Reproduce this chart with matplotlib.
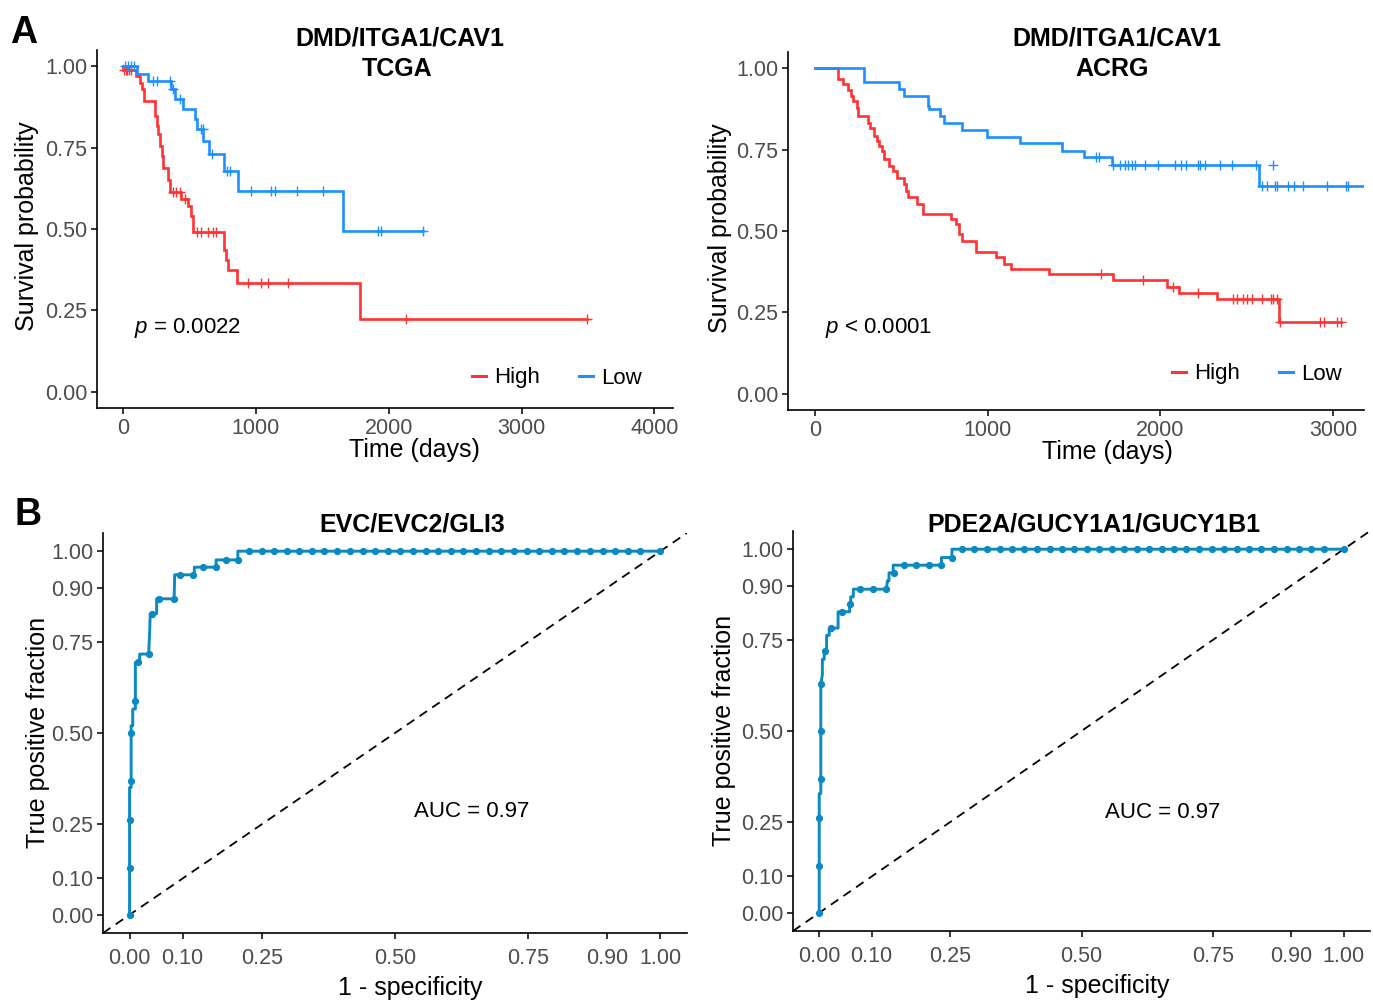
import numpy as np
import matplotlib
matplotlib.use("Agg")
import matplotlib.pyplot as plt
from matplotlib.lines import Line2D

plt.rcParams['font.family'] = ['Liberation Sans', 'DejaVu Sans']
plt.rcParams['mathtext.fontset'] = 'custom'
plt.rcParams['mathtext.it'] = 'Liberation Sans:italic'
plt.rcParams['mathtext.rm'] = 'Liberation Sans'

# ---------------- data ----------------
groups = ["High", "Low"]
colors_km = {"High": "#FF3333", "Low": "#1E8FFF"}

tcga_high_t = [0, 3, 95, 128, 140, 160, 241, 253, 266, 278, 291, 303, 336, 353, 436, 491, 511, 529,
               762, 779, 792, 855, 1782, 3489]
tcga_high_s = [1.0, 0.989, 0.970, 0.950, 0.929, 0.893, 0.847, 0.816, 0.791, 0.755, 0.723, 0.688, 0.652,
               0.613, 0.591, 0.570, 0.539, 0.490, 0.437, 0.406, 0.375, 0.334, 0.224, 0.224]
tcga_high_cens = [10, 20, 30, 45, 60, 378, 403, 429, 466, 554, 591, 642, 679, 704, 942, 1043, 1093,
                  1243, 2133, 3489]

tcga_low_t = [0, 103, 190, 361, 391, 454, 541, 554, 604, 647, 762, 867, 1657, 2258]
tcga_low_s = [1.0, 0.977, 0.954, 0.929, 0.898, 0.868, 0.837, 0.806, 0.770, 0.729, 0.678, 0.618,
              0.493, 0.493]
tcga_low_cens = [15, 35, 60, 80, 228, 253, 353, 378, 429, 586, 600, 667, 780, 805, 967, 1118, 1143,
                 1313, 1506, 1920, 1945, 2258]

acrg_high_t = [0, 131, 161, 190, 207, 222, 244, 251, 305, 320, 342, 357, 370, 386, 397, 429, 451, 473,
               516, 527, 538, 593, 625, 789, 815, 832, 854, 930, 1050, 1094, 1137, 1355, 1725, 2041,
               2107, 2325, 2684, 3044]
acrg_high_s = [1.0, 0.966, 0.951, 0.932, 0.915, 0.898, 0.877, 0.854, 0.833, 0.816, 0.792, 0.777, 0.762,
               0.746, 0.721, 0.700, 0.685, 0.664, 0.644, 0.623, 0.603, 0.582, 0.552, 0.536, 0.521,
               0.490, 0.468, 0.434, 0.419, 0.400, 0.383, 0.367, 0.349, 0.327, 0.311, 0.291, 0.219, 0.219]
acrg_high_cens = [1656, 1900, 2074, 2216, 2423, 2444, 2477, 2499, 2532, 2586, 2641, 2651, 2673, 2695,
                  2924, 2946, 3022, 3044]

acrg_low_t = [0, 283, 488, 516, 654, 662, 723, 745, 850, 996, 1185, 1431, 1556, 1719, 2571, 3174]
acrg_low_s = [1.0, 0.958, 0.936, 0.915, 0.884, 0.874, 0.854, 0.833, 0.810, 0.789, 0.769, 0.746, 0.726,
              0.702, 0.639, 0.639]
acrg_low_cens = [1627, 1643, 1725, 1769, 1795, 1813, 1834, 1856, 1911, 1987, 2085, 2118, 2150, 2216,
                 2227, 2259, 2346, 2412, 2553, 2586, 2619, 2662, 2673, 2739, 2771, 2826, 2967, 3076, 3087]
acrg_low_extra_t = [2651]
acrg_low_extra_s = [0.702]

# ROC curves
roc1_fpr = [0, 0, 0.003, 0.003, 0.006, 0.006, 0.011, 0.011, 0.019, 0.019, 0.036, 0.038, 0.039, 0.051,
            0.051, 0.084, 0.085, 0.122, 0.122, 0.163, 0.163, 0.204, 0.204, 1.0]
roc1_tpr = [0, 0.350, 0.350, 0.520, 0.520, 0.566, 0.566, 0.694, 0.694, 0.717, 0.717, 0.783, 0.828,
            0.828, 0.869, 0.869, 0.935, 0.935, 0.956, 0.956, 0.976, 0.976, 1.0, 1.0]
roc1_dot_fpr = [0, 0, 0, 0.003, 0.003, 0.011, 0.016, 0.036, 0.043, 0.055, 0.084, 0.095, 0.119, 0.139,
                0.162, 0.182, 0.204]
roc1_dot_tpr = [0, 0.128, 0.261, 0.369, 0.500, 0.587, 0.696, 0.717, 0.828, 0.869, 0.869, 0.935, 0.935,
                0.956, 0.956, 0.976, 0.976]
roc1_top_fpr = [0.225, 0.249, 0.272, 0.296, 0.320, 0.344, 0.367, 0.391, 0.415, 0.439, 0.463, 0.486,
                0.510, 0.534, 0.558, 0.581, 0.605, 0.629, 0.653, 0.677, 0.700, 0.724, 0.748, 0.772,
                0.796, 0.819, 0.843, 0.867, 0.891, 0.915, 0.938, 0.962, 1.0]

roc2_fpr = [0, 0, 0.003, 0.003, 0.006, 0.006, 0.0095, 0.0095, 0.014, 0.014, 0.019, 0.019, 0.036, 0.036,
            0.058, 0.058, 0.060, 0.060, 0.065, 0.065, 0.128, 0.130, 0.133, 0.133, 0.141, 0.141, 0.233,
            0.233, 0.253, 0.253, 1.0]
roc2_tpr = [0, 0.328, 0.328, 0.630, 0.655, 0.697, 0.697, 0.719, 0.719, 0.763, 0.763, 0.783, 0.783,
            0.828, 0.828, 0.849, 0.849, 0.869, 0.869, 0.890, 0.890, 0.913, 0.913, 0.935, 0.935, 0.956,
            0.956, 0.977, 0.977, 1.0, 1.0]
roc2_dot_fpr = [0, 0, 0, 0.003, 0.003, 0.003, 0.011, 0.022, 0.043, 0.058, 0.078, 0.102, 0.127, 0.142,
                0.161, 0.185, 0.209, 0.233, 0.253]
roc2_dot_tpr = [0, 0.128, 0.261, 0.369, 0.500, 0.630, 0.719, 0.783, 0.828, 0.849, 0.890, 0.890, 0.890,
                0.935, 0.956, 0.956, 0.956, 0.956, 0.977]
roc2_top_fpr = [0.272, 0.296, 0.320, 0.344, 0.367, 0.391, 0.415, 0.439, 0.463, 0.486, 0.510, 0.534,
                0.558, 0.581, 0.605, 0.629, 0.653, 0.677, 0.700, 0.724, 0.748, 0.772, 0.796, 0.819,
                0.843, 0.867, 0.891, 0.915, 0.938, 0.962, 1.0]

roc_ticks = [0, 0.10, 0.25, 0.50, 0.75, 0.90, 1.00]
roc_ticklabels = ["0.00", "0.10", "0.25", "0.50", "0.75", "0.90", "1.00"]
km_yticks = [0, 0.25, 0.5, 0.75, 1.0]
km_yticklabels = ["0.00", "0.25", "0.50", "0.75", "1.00"]
tcga_xticks = [0, 1000, 2000, 3000, 4000]
acrg_xticks = [0, 1000, 2000, 3000]

# ---------------- figure ----------------
W, H = 1373, 1001
fig = plt.figure(figsize=(W / 100, H / 100), dpi=100)


def rect(x0, y0, x1, y1):
    return [x0 / W, 1 - y1 / H, (x1 - x0) / W, (y1 - y0) / H]


TICK_COLOR = "#4D4D4D"
TICK_FS = 15.5
LAB_FS = 18


def style(ax):
    for s in ["top", "right"]:
        ax.spines[s].set_visible(False)
    for s in ["left", "bottom"]:
        ax.spines[s].set_linewidth(1.2)
        ax.spines[s].set_color("black")
    ax.tick_params(axis="both", length=4, width=1.1, color="black", labelcolor=TICK_COLOR,
                   labelsize=TICK_FS, pad=3)


def place_labels(ax, box, xlab_px, ylab_px):
    # box: (x0, y0, x1, y1) of axes in figure pixels; label centers in figure pixels
    x0, y0, x1, y1 = box
    ax.xaxis.set_label_coords((xlab_px[0] - x0) / (x1 - x0), (y1 - xlab_px[1]) / (y1 - y0))
    ax.yaxis.set_label_coords((ylab_px[0] - x0) / (x1 - x0), (y1 - ylab_px[1]) / (y1 - y0))
    ax.xaxis.label.set_verticalalignment("center")
    ax.yaxis.label.set_verticalalignment("center")
    ax.yaxis.label.set_horizontalalignment("center")


def km_panel(ax, curves, xlim, xticks, pval_text, pval_xy):
    for g, (t, s, cens) in curves.items():
        ax.step(t, s, where="post", color=colors_km[g], lw=1.9, solid_joinstyle="miter")
        idx = np.searchsorted(t, cens, side="right") - 1
        cs = np.asarray(s)[idx]
        ax.plot(cens, cs, linestyle="none", marker="+", ms=7, mew=1.0, color=colors_km[g])
    ax.set_xlim(*xlim)
    ax.set_ylim(-0.05, 1.05)
    ax.set_xticks(xticks)
    ax.set_xticklabels([str(v) for v in xticks])
    ax.set_yticks(km_yticks)
    ax.set_yticklabels(km_yticklabels)
    ax.set_xlabel("Time (days)", fontsize=LAB_FS)
    ax.set_ylabel("Survival probability", fontsize=LAB_FS)
    ax.text(pval_xy[0], pval_xy[1], pval_text, fontsize=16, ha="left", va="center")
    style(ax)


box1 = (97, 50, 673, 408)
ax1 = fig.add_axes(rect(*box1))
km_panel(ax1, {"High": (tcga_high_t, tcga_high_s, tcga_high_cens),
               "Low": (tcga_low_t, tcga_low_s, tcga_low_cens)},
         (-195, 4140), tcga_xticks, r"$p$ = 0.0022", (80, 0.197))
place_labels(ax1, box1, (414, 450), (27, 226))

box2 = (788, 52, 1364, 410)
ax2 = fig.add_axes(rect(*box2))
km_panel(ax2, {"High": (acrg_high_t, acrg_high_s, acrg_high_cens),
               "Low": (acrg_low_t, acrg_low_s, acrg_low_cens)},
         (-156, 3179), acrg_xticks, r"$p$ < 0.0001", (60, 0.203))
ax2.plot(acrg_low_extra_t, acrg_low_extra_s, linestyle="none", marker="+", ms=7, mew=1.0,
         color=colors_km["Low"])
place_labels(ax2, box2, (1107, 452), (720, 228))

handles = [Line2D([0], [0], color=colors_km[g], lw=2.2) for g in groups]
for ax, (cx, cy) in [(ax1, (557, 378)), (ax2, (1257, 374))]:
    fig.legend(handles, groups, ncol=2, loc="center", bbox_to_anchor=(cx / W, 1 - cy / H),
               frameon=False, fontsize=16, handlelength=0.65, handletextpad=0.35,
               columnspacing=1.75, borderpad=0, borderaxespad=0)

ROC_COLOR = "#0B8AC0"


def roc_panel(ax, fpr, tpr, dfpr, dtpr, topfpr, auc_xy):
    ax.plot([-0.05, 1.05], [-0.05, 1.05], color="black", lw=1.3, linestyle=(0, (5, 3.5)))
    ax.plot(fpr, tpr, color=ROC_COLOR, lw=2.1)
    ax.plot(dfpr, dtpr, linestyle="none", marker="o", ms=4.2, color=ROC_COLOR)
    ax.plot(topfpr, np.ones(len(topfpr)), linestyle="none", marker="o", ms=4.2, color=ROC_COLOR)
    ax.set_xlim(-0.05, 1.05)
    ax.set_ylim(-0.05, 1.05)
    ax.set_xticks(roc_ticks)
    ax.set_xticklabels(roc_ticklabels)
    ax.set_yticks(roc_ticks)
    ax.set_yticklabels(roc_ticklabels)
    ax.set_xlabel("1 - specificity", fontsize=LAB_FS)
    ax.set_ylabel("True positive fraction", fontsize=LAB_FS)
    ax.text(auc_xy[0], auc_xy[1], "AUC = 0.97", fontsize=16, ha="center", va="center")
    style(ax)
    ax.tick_params(axis="x", pad=7)


box3 = (103, 533, 687, 933)
ax3 = fig.add_axes(rect(*box3))
roc_panel(ax3, roc1_fpr, roc1_tpr, roc1_dot_fpr, roc1_dot_tpr, roc1_top_fpr, (0.645, 0.283))
place_labels(ax3, box3, (410, 988), (38, 732))

box4 = (793, 531, 1370, 931)
ax4 = fig.add_axes(rect(*box4))
roc_panel(ax4, roc2_fpr, roc2_tpr, roc2_dot_fpr, roc2_dot_tpr, roc2_top_fpr, (0.654, 0.277))
place_labels(ax4, box4, (1097, 986), (724, 730))

# titles
def ftext(x, y, s, **kw):
    fig.text(x / W, 1 - y / H, s, **kw)

ftext(400, 38, "DMD/ITGA1/CAV1", fontsize=18, fontweight="bold", ha="center", va="center")
ftext(397, 69, "TCGA", fontsize=18, fontweight="bold", ha="center", va="center")
ftext(1117, 38, "DMD/ITGA1/CAV1", fontsize=18, fontweight="bold", ha="center", va="center")
ftext(1112, 69, "ACRG", fontsize=18, fontweight="bold", ha="center", va="center")
ftext(412, 524, "EVC/EVC2/GLI3", fontsize=18, fontweight="bold", ha="center", va="center")
ftext(1094, 524, "PDE2A/GUCY1A1/GUCY1B1", fontsize=18, fontweight="bold", ha="center", va="center")

ftext(24, 33, "A", fontsize=27, fontweight="bold", ha="center", va="center")
ftext(28, 515, "B", fontsize=27, fontweight="bold", ha="center", va="center")

fig.savefig("out.png", dpi=100)
